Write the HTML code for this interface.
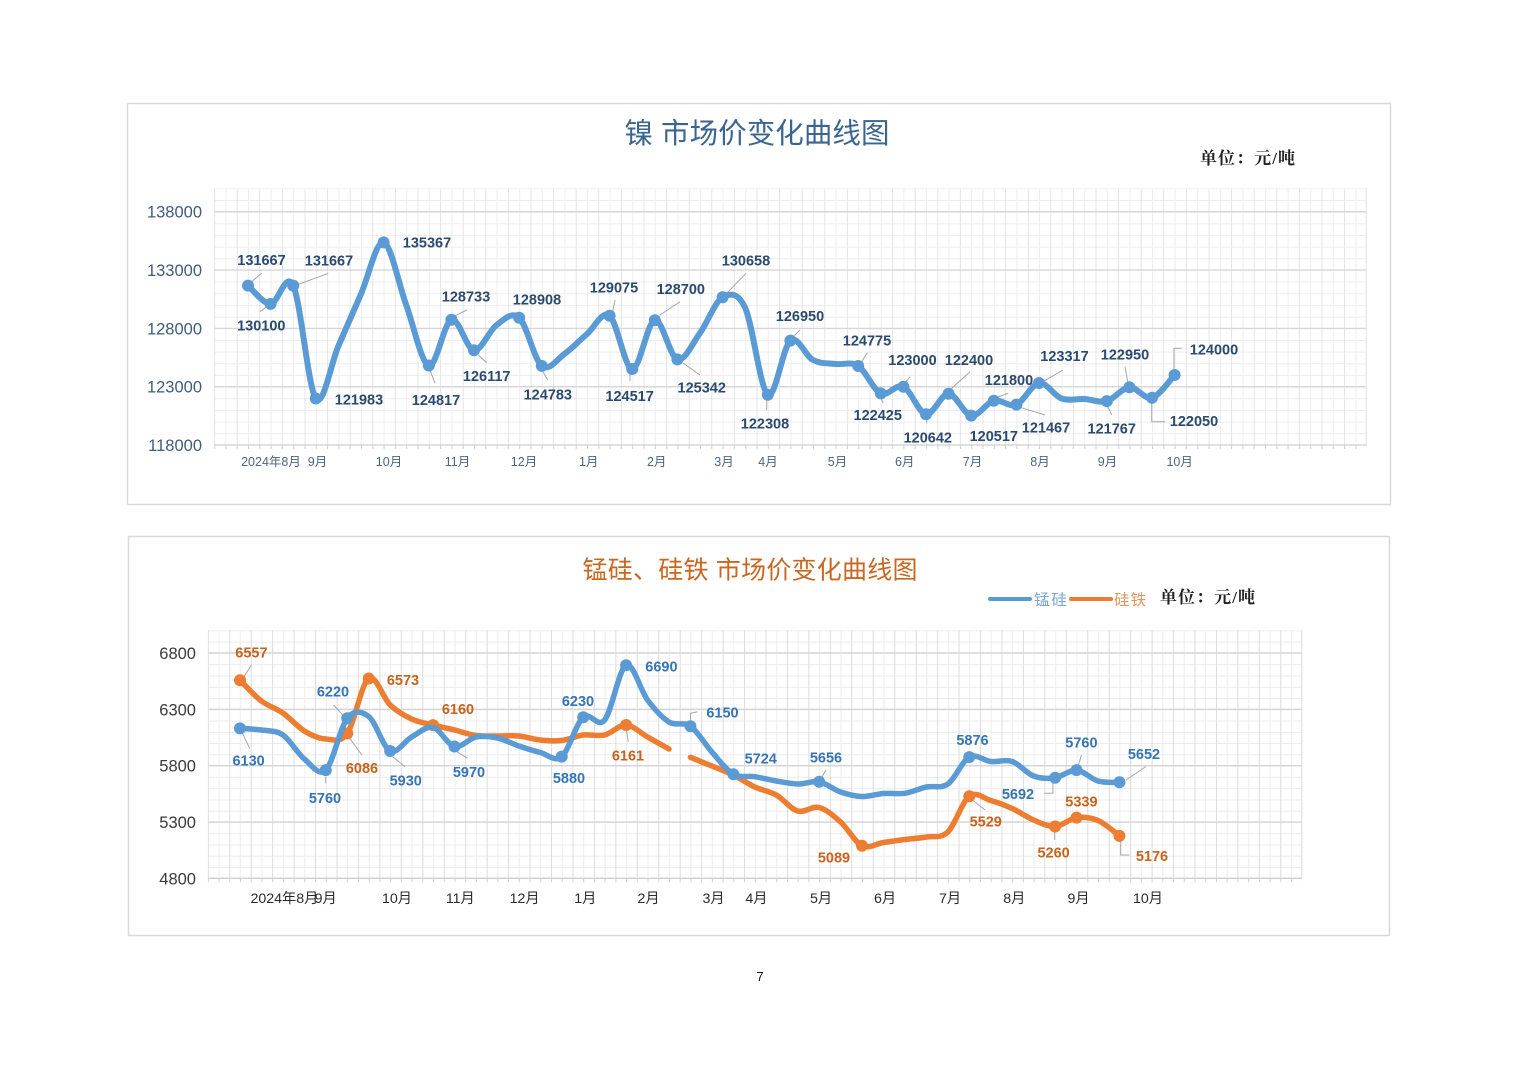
<!DOCTYPE html>
<html>
<head>
<meta charset="utf-8">
<style>
html,body{margin:0;padding:0;background:#fff;}
svg{display:block;}
.cj{font-family:"Liberation Sans","Noto Sans CJK SC",sans-serif;}
.sf{font-family:"Liberation Serif","Noto Serif CJK SC",serif;font-weight:bold;}
.lt{font-family:"Liberation Sans","Noto Sans CJK SC",sans-serif;font-size:14.5px;font-weight:bold;text-anchor:middle;}
.tl{fill:#2b4a6f;}
.bl{fill:#3575b5;}
.ol{fill:#c8621c;}
.ld{fill:none;stroke:#a6a6a6;stroke-width:1;}
</style>
</head>
<body>
<svg width="1520" height="1074" viewBox="0 0 1520 1074" xmlns="http://www.w3.org/2000/svg">
<defs>
<pattern id="gt" patternUnits="userSpaceOnUse" x="214.1" y="188.3" width="22.6" height="11.665">
<path d="M0 0.5H22.6" stroke="#ececec" stroke-width="1"/>
<path d="M0.5 0V11.665" stroke="#e4e4e4" stroke-width="1"/>
<path d="M11.8 0V11.665" stroke="#eeeeee" stroke-width="1"/>
</pattern>
<pattern id="gb" patternUnits="userSpaceOnUse" x="207.8" y="630.4" width="21.45" height="11.268">
<path d="M0 0.5H21.45" stroke="#ebebeb" stroke-width="1"/>
<path d="M0.5 0V11.268" stroke="#dcdcdc" stroke-width="1"/>
<path d="M11.2 0V11.268" stroke="#ececec" stroke-width="1"/>
</pattern>
<pattern id="tt" patternUnits="userSpaceOnUse" x="214.1" y="445" width="11.3" height="5">
<path d="M0.5 0V5" stroke="#cfcfcf" stroke-width="1"/>
</pattern>
<pattern id="tb" patternUnits="userSpaceOnUse" x="207.8" y="878.3" width="10.725" height="5">
<path d="M0.5 0V5" stroke="#cfcfcf" stroke-width="1"/>
</pattern>
</defs>

<rect width="1520" height="1074" fill="#fff"/>

<!-- ================= TOP PANEL ================= -->
<rect x="127.5" y="103.5" width="1263" height="401" fill="#fff" stroke="#d9d9d9" stroke-width="1.5"/>
<text class="cj" x="757" y="143" font-size="28.5" fill="#3a6591" text-anchor="middle" textLength="265">镍 市场价变化曲线图</text>
<text class="sf" x="1200" y="164" font-size="17" fill="#222" textLength="95">单位：元/吨</text>

<rect x="214.1" y="188.3" width="1152.6" height="256.7" fill="url(#gt)"/>
<g stroke="#d6d6d6" stroke-width="1.3">
<line x1="214.1" y1="211.7" x2="1366.7" y2="211.7"/>
<line x1="214.1" y1="270" x2="1366.7" y2="270"/>
<line x1="214.1" y1="328.4" x2="1366.7" y2="328.4"/>
<line x1="214.1" y1="386.7" x2="1366.7" y2="386.7"/>
</g>
<line x1="1366.2" y1="188.3" x2="1366.2" y2="445" stroke="#e4e4e4"/>
<line x1="214.1" y1="445" x2="1366.7" y2="445" stroke="#cfcfcf" stroke-width="1.3"/>
<rect x="214.1" y="445" width="1152.6" height="4" fill="url(#tt)"/>

<g class="cj" font-size="16.5" fill="#3f5b7d" text-anchor="end">
<text x="202" y="217.7">138000</text>
<text x="202" y="276">133000</text>
<text x="202" y="334.4">128000</text>
<text x="202" y="392.7">123000</text>
<text x="202" y="451">118000</text>
</g>
<g class="cj" font-size="12.5" fill="#4d6480" text-anchor="middle">
<text x="271" y="466">2024年8月</text>
<text x="317.5" y="466">9月</text>
<text x="389" y="466">10月</text>
<text x="457.5" y="466">11月</text>
<text x="524" y="466">12月</text>
<text x="588.7" y="466">1月</text>
<text x="656.7" y="466">2月</text>
<text x="724" y="466">3月</text>
<text x="768" y="466">4月</text>
<text x="837.5" y="466">5月</text>
<text x="904.7" y="466">6月</text>
<text x="972.5" y="466">7月</text>
<text x="1040" y="466">8月</text>
<text x="1107.5" y="466">9月</text>
<text x="1179.7" y="466">10月</text>
</g>

<!-- top leader lines -->
<g class="ld">
<path d="M251.7 281.7L261.7 273.3"/>
<path d="M266.7 306.7L260 311.7"/>
<path d="M296.7 285L328.3 273.3"/>
<path d="M453.3 316.7L466.7 310"/>
<path d="M478.3 355L486.7 362.7"/>
<path d="M430 370L435 383.3"/>
<path d="M543 371.7L547.7 380"/>
<path d="M612.7 311.7L615 300"/>
<path d="M630 373L630 381"/>
<path d="M660 315L680 301.7"/>
<path d="M683 363L700 375"/>
<path d="M726.7 293.3L746 273.3"/>
<path d="M766.7 400L766.7 410"/>
<path d="M793 336.7L800 330"/>
<path d="M861.7 361.7L867.3 352.7"/>
<path d="M905 383L910 376.7"/>
<path d="M881 398L883 403"/>
<path d="M926.7 418L926.7 423"/>
<path d="M950 390L970 371.7"/>
<path d="M995 398L1008 393.3"/>
<path d="M1018 406.7L1045 415"/>
<path d="M1043 381.7L1063 370"/>
<path d="M1106 403L1111.7 415"/>
<path d="M1128 383L1125 366.7"/>
<path d="M1151.7 398L1151.7 421.7L1165 421.7"/>
<path d="M1174 371.7L1174 348.3L1181.7 348.3"/>
</g>

<!-- top series -->
<path class="sm" fill="none" stroke="#5b9bd5" stroke-width="6" stroke-linejoin="round" stroke-linecap="round"
d="M248 285.6 L270.6 303.9 L293.2 285.6 L315.8 398.5 L338.4 346 L361 294 L383.6 242.4 L406.2 305 L428.8 365.5 L451.4 319.8 L474 350.3 L496.6 325 L519.2 317.8 L541.8 365.9 L564.4 354 L587 334 L609.6 315.8 L632.2 369 L654.8 320.2 L677.4 359.4 L700 333 L722.6 297.3 L745.2 308 L767.8 394.7 L790.4 340.6 L813 360 L835.6 364 L858.2 366 L880.8 393.4 L903.4 386.7 L926 414.2 L948.6 393.7 L971.2 415.6 L993.8 400.7 L1016.4 404.6 L1039 383 L1061.6 398.5 L1084.2 399 L1106.8 401.1 L1129.4 387.3 L1152 397.8 L1174.6 375"/>
<g fill="#5b9bd5">
<circle cx="248" cy="285.6" r="6"/>
<circle cx="270.6" cy="303.9" r="6"/>
<circle cx="293.2" cy="285.6" r="6"/>
<circle cx="315.8" cy="398.5" r="6"/>
<circle cx="383.6" cy="242.4" r="6"/>
<circle cx="428.8" cy="365.5" r="6"/>
<circle cx="451.4" cy="319.8" r="6"/>
<circle cx="474" cy="350.3" r="6"/>
<circle cx="519.2" cy="317.8" r="6"/>
<circle cx="541.8" cy="365.9" r="6"/>
<circle cx="609.6" cy="315.8" r="6"/>
<circle cx="632.2" cy="369" r="6"/>
<circle cx="654.8" cy="320.2" r="6"/>
<circle cx="677.4" cy="359.4" r="6"/>
<circle cx="722.6" cy="297.3" r="6"/>
<circle cx="767.8" cy="394.7" r="6"/>
<circle cx="790.4" cy="340.6" r="6"/>
<circle cx="858.2" cy="366" r="6"/>
<circle cx="880.8" cy="393.4" r="6"/>
<circle cx="903.4" cy="386.7" r="6"/>
<circle cx="926" cy="414.2" r="6"/>
<circle cx="948.6" cy="393.7" r="6"/>
<circle cx="971.2" cy="415.6" r="6"/>
<circle cx="993.8" cy="400.7" r="6"/>
<circle cx="1016.4" cy="404.6" r="6"/>
<circle cx="1039" cy="383" r="6"/>
<circle cx="1106.8" cy="401.1" r="6"/>
<circle cx="1129.4" cy="387.3" r="6"/>
<circle cx="1152" cy="397.8" r="6"/>
<circle cx="1174.6" cy="375" r="6"/>
</g>
<g class="lt tl">
<text x="261.5" y="265">131667</text>
<text x="261.3" y="330.7">130100</text>
<text x="329" y="265.7">131667</text>
<text x="359" y="404.3">121983</text>
<text x="427" y="247.7">135367</text>
<text x="436" y="405">124817</text>
<text x="466" y="301.7">128733</text>
<text x="486.7" y="381">126117</text>
<text x="537" y="304.3">128908</text>
<text x="547.8" y="399.3">124783</text>
<text x="614" y="292.3">129075</text>
<text x="629.6" y="401">124517</text>
<text x="680.8" y="294">128700</text>
<text x="701.7" y="392.3">125342</text>
<text x="746" y="265.7">130658</text>
<text x="765" y="428.3">122308</text>
<text x="800" y="321">126950</text>
<text x="867" y="345.7">124775</text>
<text x="877.7" y="420">122425</text>
<text x="912.5" y="365">123000</text>
<text x="927.8" y="442.3">120642</text>
<text x="969" y="365">122400</text>
<text x="993.8" y="441">120517</text>
<text x="1009" y="385">121800</text>
<text x="1046" y="432.3">121467</text>
<text x="1064.5" y="361">123317</text>
<text x="1111.7" y="433.3">121767</text>
<text x="1125" y="359.3">122950</text>
<text x="1194" y="426">122050</text>
<text x="1214" y="354.3">124000</text>
</g>

<!-- ================= BOTTOM PANEL ================= -->
<rect x="128.5" y="536.5" width="1261" height="399" fill="#fff" stroke="#d9d9d9" stroke-width="1.5"/>
<text class="cj" x="750" y="578.5" font-size="25" fill="#c9661f" text-anchor="middle" textLength="335">锰硅、硅铁 市场价变化曲线图</text>

<line x1="990" y1="599" x2="1030" y2="599" stroke="#5b9bd5" stroke-width="4" stroke-linecap="round"/>
<text class="cj" x="1034" y="605" font-size="15.5" fill="#78a6d6" textLength="33">锰硅</text>
<line x1="1071" y1="599" x2="1111" y2="599" stroke="#ed7d31" stroke-width="4" stroke-linecap="round"/>
<text class="cj" x="1114" y="605" font-size="15.5" fill="#e3955f" textLength="32">硅铁</text>
<text class="sf" x="1160" y="603" font-size="17" fill="#222" textLength="95">单位：元/吨</text>

<rect x="207.8" y="630.4" width="1094" height="247.9" fill="url(#gb)"/>
<g stroke="#d4d4d4" stroke-width="1.3">
<line x1="207.8" y1="652.9" x2="1301.8" y2="652.9"/>
<line x1="207.8" y1="709.3" x2="1301.8" y2="709.3"/>
<line x1="207.8" y1="765.6" x2="1301.8" y2="765.6"/>
<line x1="207.8" y1="822" x2="1301.8" y2="822"/>
</g>
<line x1="1301.8" y1="630.4" x2="1301.8" y2="878.3" stroke="#dcdcdc"/>
<line x1="207.8" y1="878.3" x2="1301.8" y2="878.3" stroke="#cfcfcf" stroke-width="1.3"/>
<rect x="207.8" y="878.3" width="1094" height="4" fill="url(#tb)"/>

<g class="cj" font-size="16.5" fill="#3a3a3a" text-anchor="end">
<text x="196" y="658.9">6800</text>
<text x="196" y="715.3">6300</text>
<text x="196" y="771.6">5800</text>
<text x="196" y="828">5300</text>
<text x="196" y="884.3">4800</text>
</g>
<g class="cj" font-size="14.2" fill="#2a2a2a" text-anchor="middle">
<text x="284.4" y="903">2024年8月</text>
<text x="325.7" y="903">9月</text>
<text x="397" y="903">10月</text>
<text x="460.3" y="903">11月</text>
<text x="524.6" y="903">12月</text>
<text x="585.3" y="903">1月</text>
<text x="648.6" y="903">2月</text>
<text x="713.6" y="903">3月</text>
<text x="756.4" y="903">4月</text>
<text x="821" y="903">5月</text>
<text x="885" y="903">6月</text>
<text x="950" y="903">7月</text>
<text x="1014.3" y="903">8月</text>
<text x="1078.6" y="903">9月</text>
<text x="1148" y="903">10月</text>
</g>

<!-- bottom leader lines -->
<g class="ld">
<path d="M243.6 677.3L251.4 665"/>
<path d="M242.5 733.3L249.6 748.3"/>
<path d="M333.6 705L344.3 716.7"/>
<path d="M325.7 776.7L325.7 783.3"/>
<path d="M349.6 738.3L362 755"/>
<path d="M392.5 756.7L405 766.7"/>
<path d="M456.8 751.7L467.5 758.3"/>
<path d="M626.4 730L628.2 741.7"/>
<path d="M690.4 723.3L690.4 713.3L697.5 711.7"/>
<path d="M820.7 779.3L826 770"/>
<path d="M972.5 800L985 810"/>
<path d="M1052.9 781.7L1052.9 793.3L1044 793.3"/>
<path d="M1077.9 766.7L1081.4 755"/>
<path d="M1126 780L1145.7 766.7"/>
<path d="M1054.6 831.7L1054.6 840"/>
<path d="M1120.7 840.7L1120.7 855L1129.6 855"/>
</g>

<!-- orange series (drawn first) -->
<path class="sm" fill="none" stroke="#ed7d31" stroke-width="5.5" stroke-linejoin="round" stroke-linecap="round"
d="M240 680.3 L261.45 701 L282.9 713 L304.35 731 L325.8 739 L347.25 733.4 L368.7 678.5 L390.15 705 L411.6 719 L433.05 725.1 L454.5 730 L475.95 735.5 L497.4 736 L518.85 736 L540.3 740 L561.75 740.5 L583.2 735 L604.65 735 L626.1 725 L647.55 737 L669 749"/>
<path class="sm" fill="none" stroke="#ed7d31" stroke-width="5.5" stroke-linejoin="round" stroke-linecap="round"
d="M690.45 757.3 L711.9 766 L733.35 775 L754.8 787 L776.25 795 L797.7 811 L819.15 807.5 L840.6 822 L862.05 845.7 L883.5 842.5 L904.95 839.5 L926.4 837 L947.85 832 L969.3 796.2 L990.75 800.5 L1012.2 808.5 L1033.65 820 L1055.1 826.5 L1076.55 817.6 L1098 820.5 L1119.45 835.9"/>
<g fill="#ed7d31">
<circle cx="240" cy="680.3" r="6"/>
<circle cx="347.25" cy="733.4" r="6"/>
<circle cx="368.7" cy="678.5" r="6"/>
<circle cx="433.05" cy="725.1" r="6"/>
<circle cx="626.1" cy="725" r="6"/>
<circle cx="862.05" cy="845.7" r="6"/>
<circle cx="969.3" cy="796.2" r="6"/>
<circle cx="1055.1" cy="826.5" r="6"/>
<circle cx="1076.55" cy="817.6" r="6"/>
<circle cx="1119.45" cy="835.9" r="6"/>
</g>

<!-- blue series -->
<path class="sm" fill="none" stroke="#5b9bd5" stroke-width="5.5" stroke-linejoin="round" stroke-linecap="round"
d="M240 728.4 L261.45 730 L282.9 735 L304.35 759 L325.8 770.1 L347.25 718.3 L368.7 716.5 L390.15 751 L411.6 737 L433.05 727.5 L454.5 746.5 L475.95 737 L497.4 738 L518.85 746 L540.3 752.5 L561.75 756.6 L583.2 717.2 L604.65 720 L626.1 665.3 L647.55 700 L669 722 L690.45 726.2 L711.9 752 L733.35 774.2 L754.8 776.7 L776.25 781 L797.7 784 L819.15 781.8 L840.6 792 L862.05 796.5 L883.5 793.5 L904.95 793.3 L926.4 787 L947.85 784 L969.3 757.1 L990.75 761.5 L1012.2 761.5 L1033.65 776 L1055.1 777.8 L1076.55 770.1 L1098 781 L1119.45 782.3"/>
<g fill="#5b9bd5">
<circle cx="240" cy="728.4" r="6"/>
<circle cx="325.8" cy="770.1" r="6"/>
<circle cx="347.25" cy="718.3" r="6"/>
<circle cx="390.15" cy="751" r="6"/>
<circle cx="454.5" cy="746.5" r="6"/>
<circle cx="561.75" cy="756.6" r="6"/>
<circle cx="583.2" cy="717.2" r="6"/>
<circle cx="626.1" cy="665.3" r="6"/>
<circle cx="690.45" cy="726.2" r="6"/>
<circle cx="733.35" cy="774.2" r="6"/>
<circle cx="819.15" cy="781.8" r="6"/>
<circle cx="969.3" cy="757.1" r="6"/>
<circle cx="1055.1" cy="777.8" r="6"/>
<circle cx="1076.55" cy="770.1" r="6"/>
<circle cx="1119.45" cy="782.3" r="6"/>
</g>

<g class="lt ol">
<text x="251.4" y="657.3">6557</text>
<text x="403" y="685">6573</text>
<text x="362" y="773">6086</text>
<text x="458" y="714">6160</text>
<text x="628" y="760.7">6161</text>
<text x="834" y="862.7">5089</text>
<text x="985.7" y="826.7">5529</text>
<text x="1053.6" y="857.7">5260</text>
<text x="1081.4" y="806.7">5339</text>
<text x="1152" y="861">5176</text>
</g>
<g class="lt bl">
<text x="248.6" y="765.7">6130</text>
<text x="325" y="803">5760</text>
<text x="333" y="696.7">6220</text>
<text x="405.7" y="785.7">5930</text>
<text x="469" y="777">5970</text>
<text x="569" y="783">5880</text>
<text x="578" y="706">6230</text>
<text x="661.4" y="671.7">6690</text>
<text x="722.5" y="717.7">6150</text>
<text x="760.7" y="763.3">5724</text>
<text x="826" y="762.3">5656</text>
<text x="972.5" y="745">5876</text>
<text x="1018" y="799">5692</text>
<text x="1081.4" y="747.7">5760</text>
<text x="1144" y="759">5652</text>
</g>

<text class="cj" x="760" y="981" font-size="13" fill="#111" text-anchor="middle">7</text>
</svg>
<script>
(function(){
  var ps=document.querySelectorAll('path.sm');
  for(var k=0;k<ps.length;k++){
    var p=ps[k];
    var n=p.getAttribute('d').match(/-?[\d.]+/g).map(Number);
    var pts=[];
    for(var i=0;i+1<n.length;i+=2)pts.push([n[i],n[i+1]]);
    if(pts.length<3)continue;
    var t=1/6,d='M'+pts[0][0]+' '+pts[0][1];
    for(var j=0;j<pts.length-1;j++){
      var p0=pts[Math.max(0,j-1)],p1=pts[j],p2=pts[j+1],p3=pts[Math.min(pts.length-1,j+2)];
      var c1x=p1[0]+(p2[0]-p0[0])*t,c1y=p1[1]+(p2[1]-p0[1])*t;
      var c2x=p2[0]-(p3[0]-p1[0])*t,c2y=p2[1]-(p3[1]-p1[1])*t;
      d+=' C'+c1x.toFixed(2)+' '+c1y.toFixed(2)+' '+c2x.toFixed(2)+' '+c2y.toFixed(2)+' '+p2[0]+' '+p2[1];
    }
    p.setAttribute('d',d);
  }
})();
</script>
</body>
</html>
